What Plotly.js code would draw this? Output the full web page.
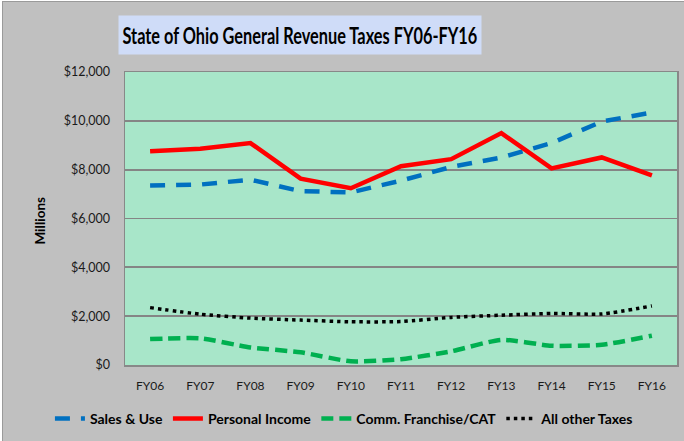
<!DOCTYPE html>
<html><head><meta charset="utf-8">
<script src="https://cdn.plot.ly/plotly-3.0.1.min.js"></script>
<style>
html,body{margin:0;padding:0;background:#fff;width:684px;height:441px;overflow:hidden}
#chart{position:absolute;left:2px;top:1px;width:681px;height:439px;border-left:1px solid #9a9a9a;border-top:1px solid #9a9a9a}
</style></head><body>
<div id="chart"></div>
<script>
const years = ['FY06','FY07','FY08','FY09','FY10','FY11','FY12','FY13','FY14','FY15','FY16'];
const salesUse = [7350,7390,7590,7120,7070,7550,8110,8500,9090,9970,10340];
const personalIncome = [8750,8860,9090,7630,7240,8140,8430,9500,8050,8500,7770];
const commCAT = [1060,1090,720,520,150,240,560,1030,790,830,1200];
const otherTaxes = [2350,2080,1920,1840,1770,1780,1950,2040,2110,2090,2420];
const yTicks = [0,2000,4000,6000,8000,10000,12000];
const yTickText = ['$0','$2,000','$4,000','$6,000','$8,000','$10,000','$12,000'];

const FONT = 'Lato, "Open Sans", sans-serif';

const traces = [
  {x: years, y: salesUse, name: 'Sales & Use', mode: 'lines',
   line: {color: '#0070c0', width: 4.5, dash: '15px,11px'}},
  {x: years, y: personalIncome, name: 'Personal Income', mode: 'lines',
   line: {color: '#ff0000', width: 4.5}},
  {x: years, y: commCAT, name: 'Comm. Franchise/CAT', mode: 'lines',
   line: {color: '#00b050', width: 4.5, dash: '12px,6px', shape: 'spline', smoothing: 0.6}},
  {x: years, y: otherTaxes, name: 'All other Taxes', mode: 'lines',
   line: {color: '#000000', width: 3.5, dash: '3.5px,4px', shape: 'spline', smoothing: 0.6}}
];

const layout = {
  width: 681, height: 439,
  margin: {l: 122, r: 7, t: 70, b: 75},
  paper_bgcolor: '#c0c0c0',
  plot_bgcolor: '#a8e6c9',
  font: {family: FONT, color: '#1a1a1a', size: 12},
  showlegend: true,
  legend: {orientation: 'h', x: -0.136, xanchor: 'left', y: -0.18, yanchor: 'middle',
           font: {family: FONT, size: 14, color: '#000', weight: 'bold'}, bgcolor: 'rgba(0,0,0,0)',
           itemwidth: 30, tracegroupgap: 0},
  xaxis: {type: 'category', range: [-0.5, 10.5], showgrid: false, zeroline: false,
          showline: true, linecolor: '#888', linewidth: 1.5, mirror: true,
          ticks: '', tickfont: {family: FONT, size: 12, color: '#1a1a1a'}, ticklabelstandoff: 9},
  yaxis: {range: [0, 12000], tickvals: yTicks, ticktext: yTickText,
          showgrid: true, gridcolor: '#858585', gridwidth: 1.8, zeroline: false,
          showline: true, linecolor: '#888', linewidth: 1.5, mirror: true,
          ticks: '', tickfont: {family: FONT, size: 12.5, color: '#1a1a1a'}, ticklabelstandoff: 11},
  annotations: [
    {text: '<b>State of Ohio General Revenue Taxes FY06-FY16</b>', xref: 'paper', yref: 'paper',
     x: 0.317, y: 1.126, xanchor: 'center', yanchor: 'middle', showarrow: false,
     font: {family: FONT, size: 23, color: '#000'}, bgcolor: '#cfdcf8', borderpad: 5},
    {text: '<b>Millions</b>', xref: 'paper', yref: 'paper', x: -0.154, y: 0.493,
     xanchor: 'center', yanchor: 'middle', textangle: -90, showarrow: false,
     font: {family: FONT, size: 13.5, color: '#000'}}
  ]
};

Plotly.newPlot('chart', traces, layout, {displayModeBar: false, staticPlot: true}).then(function (gd) {
  // condense the title box horizontally to match the narrow original typeface
  const ann = gd.querySelector('.annotation[data-index="0"]');
  if (!ann) return;
  const txt = ann.querySelector('text');
  const s = 355 / txt.getBBox().width;
  const g = ann.querySelector('.annotation-text-g') || ann;
  const gb = g.getBBox();
  const cx = gb.x + gb.width / 2;
  const prev = g.getAttribute('transform') || '';
  g.setAttribute('transform', prev + ' translate(' + cx + ',0) scale(' + s + ',1) translate(' + (-cx) + ',0)');
});
</script></body></html>
